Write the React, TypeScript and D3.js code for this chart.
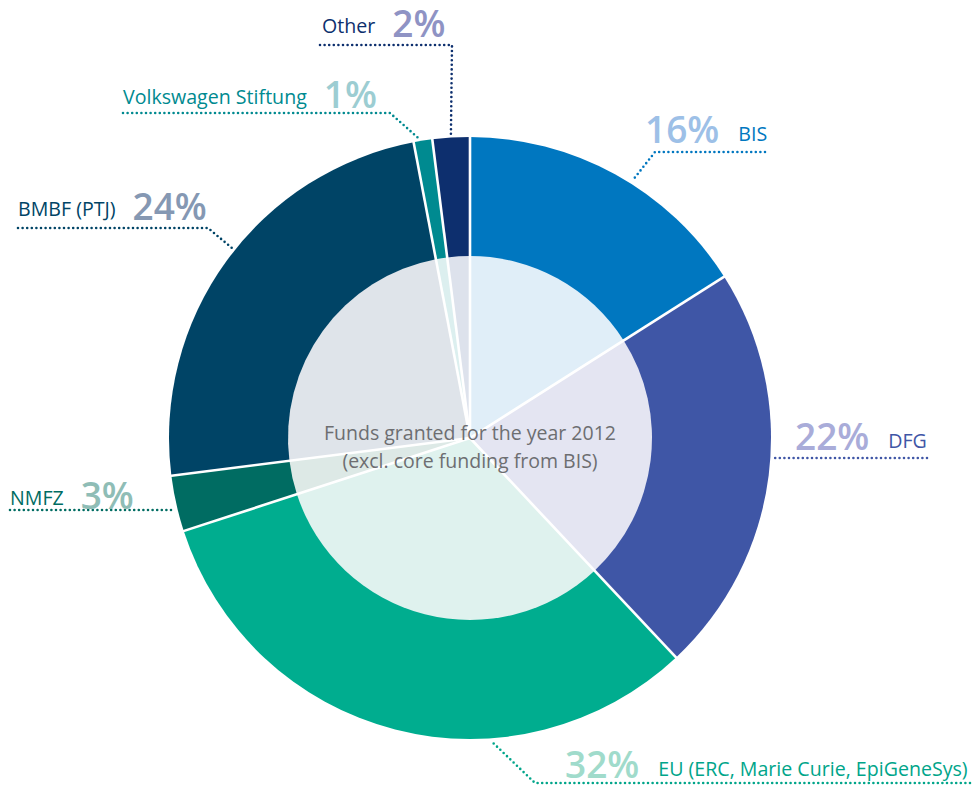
import React from 'react';
import * as d3 from 'd3';

// funding sources, clockwise from 12 o'clock
const sources = ['BIS', 'DFG', 'EU (ERC, Marie Curie, EpiGeneSys)', 'NMFZ', 'BMBF (PTJ)', 'Volkswagen Stiftung', 'Other'];
const shares = [16, 22, 32, 3, 24, 1, 2];

const ringColors = ['#0077c0', '#3f56a6', '#00ad8f', '#006c62', '#004466', '#008a90', '#0d2f6e'];
const innerColors = ['#e0eef8', '#e4e5f2', '#dff2ee', '#dde9e6', '#dfe4ea', '#dcefef', '#dde2ec'];
const nameColors = ['#0077c0', '#3f56a6', '#00a58a', '#006c62', '#004466', '#008a90', '#0d2f6e'];
const pctColors = ['#9dc0e7', '#a9acd9', '#a0dbcb', '#8fbdb6', '#8598b3', '#9ccdd2', '#8f93c4'];
const dotColors = ['#0077c0', '#3f56a6', '#00a58a', '#006c62', '#004466', '#008a90', '#0d2f6e'];

const centerLines = ['Funds granted for the year 2012', '(excl. core funding from BIS)'];

const width = 972;
const height = 785;
const cx = 470;
const cy = 438;
const outerR = 301;
const innerR = 182;

// label layout: pctFirst = percent left of the name, t = where in the slice the leader meets the ring
const labelLayout = [
  {x: 645, y: 143, pctFirst: true, lineY: 152, lineX: [765, 655], toArc: true, t: 0.56},
  {x: 795, y: 450, pctFirst: true, lineY: 458, lineX: [927, 0], toArc: false, t: 0.5},
  {x: 565, y: 778, pctFirst: true, lineY: 783, lineX: [970, 535], toArc: true, t: 0.34},
  {x: 10, y: 505, pctFirst: false, lineY: 510, lineX: [10, 0], toArc: false, t: 0.5},
  {x: 18, y: 216, pctFirst: false, lineY: 228, lineX: [18, 208], toArc: true, t: 0.53},
  {x: 123, y: 104, pctFirst: false, lineY: 113, lineX: [123, 390], toArc: true, t: 0.3},
  {x: 322, y: 33, pctFirst: false, lineY: 45, lineX: [320, 452], toArc: true, t: 0.5},
];

const font = '"Open Sans", sans-serif';

export default function App() {
  const pie = d3.pie<number>().sort(null).value(d => d);
  const arcs = pie(shares);
  const ring = d3.arc<d3.PieArcDatum<number>>().innerRadius(0).outerRadius(outerR);
  const inner = d3.arc<d3.PieArcDatum<number>>().innerRadius(0).outerRadius(innerR);

  const nameSize = 19.6;
  const pctSize = 37;

  const leader = (i: number) => {
    const a = arcs[i];
    const L = labelLayout[i];
    const ang = a.startAngle + (a.endAngle - a.startAngle) * L.t;
    if (!L.toArc) {
      // horizontal line until it meets the ring
      const dy = L.lineY - cy;
      const dx = Math.sqrt(outerR * outerR - dy * dy) + 4;
      const xe = ang > Math.PI ? cx - dx : cx + dx;
      return [[L.lineX[0], L.lineY], [xe, L.lineY]];
    }
    const r = outerR + 3;
    const ax = cx + r * Math.sin(ang);
    const ay = cy - r * Math.cos(ang);
    return [[L.lineX[0], L.lineY], [L.lineX[1], L.lineY], [ax, ay]];
  };

  return (
    <svg width={width} height={height} style={{position: 'absolute', left: 0, top: 0, background: '#fff'}}>
      <g transform={`translate(${cx},${cy})`}>
        {arcs.map((a, i) => (
          <path key={'o' + i} d={ring(a) || ''} fill={ringColors[i]} />
        ))}
        {arcs.map((a, i) => (
          <path key={'in' + i} d={inner(a) || ''} fill={innerColors[i]} />
        ))}
        {arcs.map((a, i) => (
          <line key={'s' + i} x1={0} y1={0}
            x2={(outerR + 2) * Math.sin(a.startAngle)} y2={-(outerR + 2) * Math.cos(a.startAngle)}
            stroke="#fff" strokeWidth={2.6} />
        ))}
      </g>

      {centerLines.map((t, i) => (
        <text key={'c' + i} x={cx} y={440 + i * 28} textAnchor="middle" fontFamily={font}
          fontSize={19.5} fill="#6d6e71">{t}</text>
      ))}

      {arcs.map((a, i) => {
        const L = labelLayout[i];
        const pts = leader(i);
        return (
          <g key={'l' + i}>
            <path d={d3.line()(pts as [number, number][]) || ''} fill="none" stroke={dotColors[i]}
              strokeWidth={2.6} strokeDasharray="0,4.6" strokeLinecap="round" />
            <text x={L.x} y={L.y} fontFamily={font}>
              {L.pctFirst ? (
                <>
                  <tspan fontSize={pctSize} fontWeight={600} fill={pctColors[i]}>{shares[i]}%</tspan>
                  <tspan dx={19} dy={-2} fontSize={nameSize} fill={nameColors[i]}>{sources[i]}</tspan>
                </>
              ) : (
                <>
                  <tspan fontSize={nameSize} fill={nameColors[i]}>{sources[i]}</tspan>
                  <tspan dx={17} dy={4} fontSize={pctSize} fontWeight={600} fill={pctColors[i]}>{shares[i]}%</tspan>
                </>
              )}
            </text>
          </g>
        );
      })}
    </svg>
  );
}
